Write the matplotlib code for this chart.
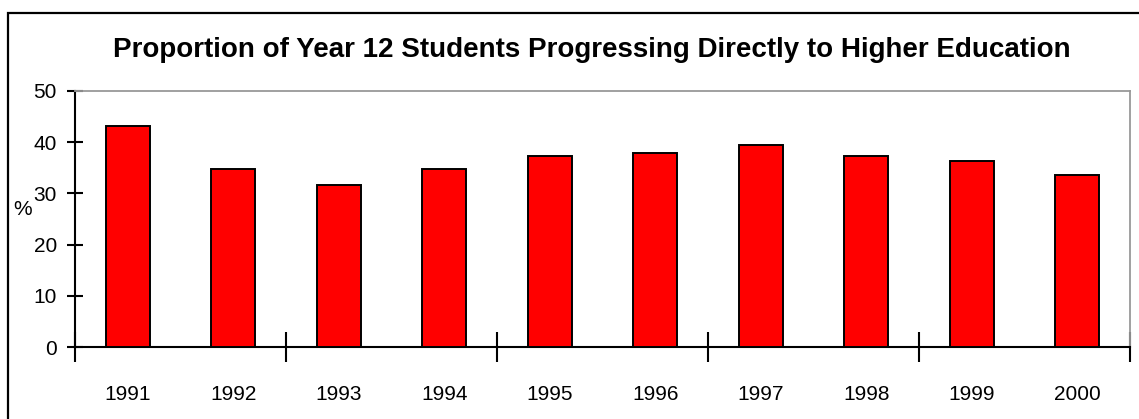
import matplotlib
matplotlib.use("Agg")
import matplotlib.pyplot as plt
from matplotlib.patches import Rectangle
from matplotlib import font_manager

years = ["1991", "1992", "1993", "1994", "1995", "1996", "1997", "1998", "1999", "2000"]
values = [43.2, 34.7, 31.6, 34.7, 37.4, 37.8, 39.4, 37.4, 36.4, 33.5]
y_ticks = [0, 10, 20, 30, 40, 50]
title = "Proportion of Year 12 Students Progressing Directly to Higher Education"

names = {f.name for f in font_manager.fontManager.ttflist}
narrow = "Liberation Sans Narrow" if "Liberation Sans Narrow" in names else "Liberation Sans"

W, H = 1139, 419
fig = plt.figure(figsize=(W / 100, H / 100), dpi=100)

# outer frame (extends past right and bottom edges)
fig.patches.append(Rectangle((8 / W, -0.1), 1.2, (H - 13) / H + 0.1, transform=fig.transFigure,
                             fill=False, edgecolor="black", linewidth=1.6))

ax = fig.add_axes([75 / W, (H - 347) / H, 1055 / W, 256 / H])
x = list(range(len(years)))
ax.bar(x, values, width=0.42, color="#ff0000", edgecolor="black", linewidth=1.4, zorder=3)

ax.set_xlim(-0.5, len(years) - 0.5)
ax.set_ylim(0, 50)

for s in ["top", "right"]:
    ax.spines[s].set_color("#999999")
    ax.spines[s].set_linewidth(1.3)
for s in ["left", "bottom"]:
    ax.spines[s].set_color("black")
    ax.spines[s].set_linewidth(1.5)

ax.set_yticks(y_ticks)
ax.set_yticklabels([str(v) for v in y_ticks], fontfamily=narrow, fontsize=15)
ax.tick_params(axis="y", direction="inout", length=12, width=1.5, pad=7, colors="black")

ax.set_xticks([i - 0.5 for i in range(0, len(years) + 1, 2)])
ax.set_xticklabels([])
ax.set_xticks(x, minor=True)
ax.set_xticklabels(years, minor=True, fontfamily=narrow, fontsize=15)
ax.tick_params(axis="x", which="major", direction="inout", length=22, width=1.5)
ax.tick_params(axis="x", which="minor", length=0, pad=27)

ax.set_ylabel("%", rotation=0, fontfamily=narrow, fontsize=15, labelpad=4)
ax.yaxis.set_label_coords(-0.05, 0.5)

fig.text(0.5 * (118 + 1066) / W, 1 - 50 / H, title, ha="center", va="center",
         fontfamily=narrow, fontweight="bold", fontsize=20)

fig.savefig("out.png", dpi=100)
